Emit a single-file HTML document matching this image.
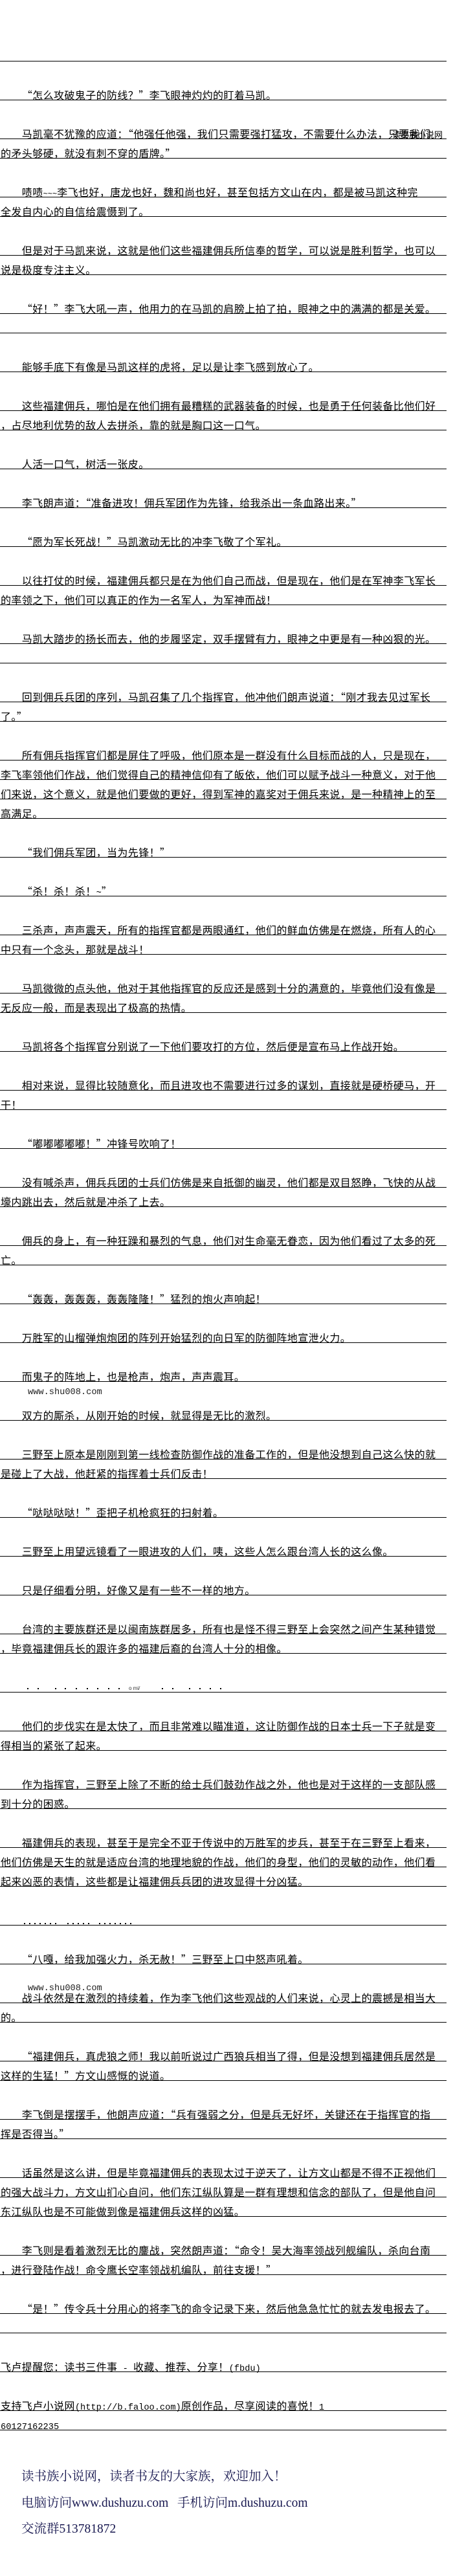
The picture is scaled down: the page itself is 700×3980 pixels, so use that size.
<!DOCTYPE html>
<html>
<head>
<meta charset="utf-8">
<style>
  html,body{margin:0;padding:0;background:#fff;}
  svg{display:block;}
  text{font-family:"Liberation Sans","Noto Sans CJK SC",sans-serif;font-size:16px;letter-spacing:0.4px;fill:#000;}
  .q{font-family:"Noto Sans CJK SC",sans-serif;}
  .l{font-family:"Liberation Mono",monospace;font-size:13.67px;letter-spacing:0;}
  text.wm{font-family:"Liberation Sans","Noto Sans CJK SC",sans-serif;font-size:13px;letter-spacing:0;}
  text.u{font-family:"Liberation Mono",monospace;font-size:13.67px;letter-spacing:0;fill:#222;}
  text.f{font-family:"Liberation Serif","Noto Serif CJK SC",serif;font-size:19.5px;letter-spacing:0;fill:#17174f;}
  text.g{font-family:"Liberation Sans",sans-serif;font-size:8px;letter-spacing:0;fill:#333;}
</style>
</head>
<body>
<svg xmlns="http://www.w3.org/2000/svg" width="700" height="3980" viewBox="0 0 700 3980">
<rect x="0" y="0" width="700" height="3980" fill="#fff"/>
<path stroke="#000" stroke-width="1" fill="none" d="M0 94.5H690M0 154.5H690M0 214.5H690M0 244.5H690M0 304.5H690M0 334.5H690M0 394.5H690M0 424.5H690M0 484.5H690M0 514.5H690M0 574.5H690M0 634.5H690M0 664.5H690M0 724.5H690M0 784.5H690M0 844.5H690M0 904.5H690M0 934.5H690M0 994.5H690M0 1024.5H690M0 1084.5H690M0 1114.5H690M0 1174.5H690M0 1204.5H690M0 1234.5H690M0 1264.5H690M0 1324.5H690M0 1384.5H690M0 1444.5H690M0 1474.5H690M0 1534.5H690M0 1564.5H690M0 1624.5H690M0 1684.5H690M0 1714.5H690M0 1774.5H690M0 1834.5H690M0 1864.5H690M0 1924.5H690M0 1954.5H690M0 2014.5H690M0 2074.5H690M0 2134.5H690M0 2194.5H690M0 2254.5H690M0 2284.5H690M0 2344.5H690M0 2404.5H690M0 2464.5H690M0 2524.5H690M0 2554.5H690M0 2614.5H690M0 2674.5H690M0 2704.5H690M0 2764.5H690M0 2794.5H690M0 2854.5H690M0 2884.5H690M0 2914.5H690M0 2974.5H690M0 3034.5H690M0 3094.5H690M0 3124.5H690M0 3184.5H690M0 3214.5H690M0 3274.5H690M0 3304.5H690M0 3364.5H690M0 3394.5H690M0 3424.5H690M0 3484.5H690M0 3514.5H690M0 3574.5H690M0 3604.5H690M0 3664.5H690M0 3724.5H690M0 3754.5H690"/>

<text x="33.8" y="153"><tspan class="q">“</tspan>怎么攻破鬼子的防线？<tspan class="q">”</tspan>李飞眼神灼灼的盯着马凯。</text>
<text x="33.8" y="213">马凯毫不犹豫的应道：<tspan class="q">“</tspan>他强任他强，我们只需要强打猛攻，不需要什么办法，只要我们</text>
<text class="wm" x="606" y="213">读书族小说网</text>
<text x="1" y="243">的矛头够硬，就没有刺不穿的盾牌。<tspan class="q">”</tspan></text>
<text x="33.8" y="303">啧啧<tspan class="l" style="font-size:12px">~~~</tspan>李飞也好，唐龙也好，魏和尚也好，甚至包括方文山在内，都是被马凯这种完</text>
<text x="1" y="333">全发自内心的自信给震慑到了。</text>
<text x="33.8" y="393">但是对于马凯来说，这就是他们这些福建佣兵所信奉的哲学，可以说是胜利哲学，也可以</text>
<text x="1" y="423">说是极度专注主义。</text>
<text x="33.8" y="483"><tspan class="q">“</tspan>好！<tspan class="q">”</tspan>李飞大吼一声，他用力的在马凯的肩膀上拍了拍，眼神之中的满满的都是关爱。</text>
<text x="33.8" y="573">能够手底下有像是马凯这样的虎将，足以是让李飞感到放心了。</text>
<text x="33.8" y="633">这些福建佣兵，哪怕是在他们拥有最糟糕的武器装备的时候，也是勇于任何装备比他们好</text>
<text x="1" y="663">，占尽地利优势的敌人去拼杀，靠的就是胸口这一口气。</text>
<text x="33.8" y="723">人活一口气，树活一张皮。</text>
<text x="33.8" y="783">李飞朗声道：<tspan class="q">“</tspan>准备进攻！佣兵军团作为先锋，给我杀出一条血路出来。<tspan class="q">”</tspan></text>
<text x="33.8" y="843"><tspan class="q">“</tspan>愿为军长死战！<tspan class="q">”</tspan>马凯激动无比的冲李飞敬了个军礼。</text>
<text x="33.8" y="903">以往打仗的时候，福建佣兵都只是在为他们自己而战，但是现在，他们是在军神李飞军长</text>
<text x="1" y="933">的率领之下，他们可以真正的作为一名军人，为军神而战！</text>
<text x="33.8" y="993">马凯大踏步的扬长而去，他的步履坚定，双手摆臂有力，眼神之中更是有一种凶狠的光。</text>
<text x="33.8" y="1083">回到佣兵兵团的序列，马凯召集了几个指挥官，他冲他们朗声说道：<tspan class="q">“</tspan>刚才我去见过军长</text>
<text x="1" y="1113">了。<tspan class="q">”</tspan></text>
<text x="33.8" y="1173">所有佣兵指挥官们都是屏住了呼吸，他们原本是一群没有什么目标而战的人，只是现在，</text>
<text x="1" y="1203">李飞率领他们作战，他们觉得自己的精神信仰有了皈依，他们可以赋予战斗一种意义，对于他</text>
<text x="1" y="1233">们来说，这个意义，就是他们要做的更好，得到军神的嘉奖对于佣兵来说，是一种精神上的至</text>
<text x="1" y="1263">高满足。</text>
<text x="33.8" y="1323"><tspan class="q">“</tspan>我们佣兵军团，当为先锋！<tspan class="q">”</tspan></text>
<text x="33.8" y="1383"><tspan class="q">“</tspan>杀！杀！杀！<tspan class="l">~</tspan><tspan class="q">”</tspan></text>
<text x="33.8" y="1443">三杀声，声声震天，所有的指挥官都是两眼通红，他们的鲜血仿佛是在燃烧，所有人的心</text>
<text x="1" y="1473">中只有一个念头，那就是战斗！</text>
<text x="33.8" y="1533">马凯微微的点头他，他对于其他指挥官的反应还是感到十分的满意的，毕竟他们没有像是</text>
<text x="1" y="1563">无反应一般，而是表现出了极高的热情。</text>
<text x="33.8" y="1623">马凯将各个指挥官分别说了一下他们要攻打的方位，然后便是宣布马上作战开始。</text>
<text x="33.8" y="1683">相对来说，显得比较随意化，而且进攻也不需要进行过多的谋划，直接就是硬桥硬马，开</text>
<text x="1" y="1713">干！</text>
<text x="33.8" y="1773"><tspan class="q">“</tspan>嘟嘟嘟嘟嘟！<tspan class="q">”</tspan>冲锋号吹响了！</text>
<text x="33.8" y="1833">没有喊杀声，佣兵兵团的士兵们仿佛是来自抵御的幽灵，他们都是双目怒睁，飞快的从战</text>
<text x="1" y="1863">壕内跳出去，然后就是冲杀了上去。</text>
<text x="33.8" y="1923">佣兵的身上，有一种狂躁和暴烈的气息，他们对生命毫无眷恋，因为他们看过了太多的死</text>
<text x="1" y="1953">亡。</text>
<text x="33.8" y="2013"><tspan class="q">“</tspan>轰轰，轰轰轰，轰轰隆隆！<tspan class="q">”</tspan>猛烈的炮火声响起！</text>
<text x="33.8" y="2073">万胜军的山榴弹炮炮团的阵列开始猛烈的向日军的防御阵地宣泄火力。</text>
<text x="33.8" y="2133">而鬼子的阵地上，也是枪声，炮声，声声震耳。</text>
<text class="u" x="43" y="2154">www.shu008.com</text>
<text x="33.8" y="2193">双方的厮杀，从刚开始的时候，就显得是无比的激烈。</text>
<text x="33.8" y="2253">三野至上原本是刚刚到第一线检查防御作战的准备工作的，但是他没想到自己这么快的就</text>
<text x="1" y="2283">是碰上了大战，他赶紧的指挥着士兵们反击！</text>
<text x="33.8" y="2343"><tspan class="q">“</tspan>哒哒哒哒！<tspan class="q">”</tspan>歪把子机枪疯狂的扫射着。</text>
<text x="33.8" y="2403">三野至上用望远镜看了一眼进攻的人们，咦，这些人怎么跟台湾人长的这么像。</text>
<text x="33.8" y="2463">只是仔细看分明，好像又是有一些不一样的地方。</text>
<text x="33.8" y="2523">台湾的主要族群还是以闽南族群居多，所有也是怪不得三野至上会突然之间产生某种错觉</text>
<text x="1" y="2553">，毕竟福建佣兵长的跟许多的福建后裔的台湾人十分的相像。</text>

<g fill="#000">
  <rect x="42" y="2608" width="2" height="2"/><rect x="58" y="2608" width="2" height="2"/>
  <rect x="85" y="2608" width="2" height="2"/><rect x="100" y="2608" width="2" height="2"/>
  <rect x="117" y="2608" width="2" height="2"/><rect x="134" y="2608" width="2" height="2"/>
  <rect x="150" y="2608" width="2" height="2"/><rect x="167" y="2608" width="2" height="2"/>
  <rect x="183" y="2608" width="2" height="2"/>
  <rect x="250" y="2608" width="2" height="2"/><rect x="266" y="2608" width="2" height="2"/>
  <rect x="292" y="2608" width="2" height="2"/><rect x="308" y="2608" width="2" height="2"/>
  <rect x="324" y="2608" width="2" height="2"/><rect x="340" y="2608" width="2" height="2"/>
</g>
<text class="g" x="199" y="2611">o mi/</text>

<text x="33.8" y="2673">他们的步伐实在是太快了，而且非常难以瞄准道，这让防御作战的日本士兵一下子就是变</text>
<text x="1" y="2703">得相当的紧张了起来。</text>
<text x="33.8" y="2763">作为指挥官，三野至上除了不断的给士兵们鼓劲作战之外，他也是对于这样的一支部队感</text>
<text x="1" y="2793">到十分的困惑。</text>
<text x="33.8" y="2853">福建佣兵的表现，甚至于是完全不亚于传说中的万胜军的步兵，甚至于在三野至上看来，</text>
<text x="1" y="2883">他们仿佛是天生的就是适应台湾的地理地貌的作战，他们的身型，他们的灵敏的动作，他们看</text>
<text x="1" y="2913">起来凶恶的表情，这些都是让福建佣兵兵团的进攻显得十分凶猛。</text>

<g fill="#000">
  <rect x="37" y="2971" width="2" height="2"/><rect x="45" y="2971" width="2" height="2"/>
  <rect x="53" y="2971" width="2" height="2"/><rect x="61" y="2971" width="2" height="2"/>
  <rect x="69" y="2971" width="2" height="2"/><rect x="77" y="2971" width="2" height="2"/>
  <rect x="85" y="2971" width="2" height="2"/>
  <rect x="104" y="2971" width="2" height="2"/><rect x="112" y="2971" width="2" height="2"/>
  <rect x="120" y="2971" width="2" height="2"/><rect x="128" y="2971" width="2" height="2"/>
  <rect x="136" y="2971" width="2" height="2"/>
  <rect x="153" y="2971" width="2" height="2"/><rect x="161" y="2971" width="2" height="2"/>
  <rect x="169" y="2971" width="2" height="2"/><rect x="177" y="2971" width="2" height="2"/>
  <rect x="185" y="2971" width="2" height="2"/><rect x="193" y="2971" width="2" height="2"/>
  <rect x="201" y="2971" width="2" height="2"/>
</g>

<text x="33.8" y="3033"><tspan class="q">“</tspan>八嘎，给我加强火力，杀无赦！<tspan class="q">”</tspan>三野至上口中怒声吼着。</text>
<text class="u" x="43" y="3075">www.shu008.com</text>
<text x="33.8" y="3093">战斗依然是在激烈的持续着，作为李飞他们这些观战的人们来说，心灵上的震撼是相当大</text>
<text x="1" y="3123">的。</text>
<text x="33.8" y="3183"><tspan class="q">“</tspan>福建佣兵，真虎狼之师！我以前听说过广西狼兵相当了得，但是没想到福建佣兵居然是</text>
<text x="1" y="3213">这样的生猛！<tspan class="q">”</tspan>方文山感慨的说道。</text>
<text x="33.8" y="3273">李飞倒是摆摆手，他朗声应道：<tspan class="q">“</tspan>兵有强弱之分，但是兵无好坏，关键还在于指挥官的指</text>
<text x="1" y="3303">挥是否得当。<tspan class="q">”</tspan></text>
<text x="33.8" y="3363">话虽然是这么讲，但是毕竟福建佣兵的表现太过于逆天了，让方文山都是不得不正视他们</text>
<text x="1" y="3393">的强大战斗力，方文山扪心自问，他们东江纵队算是一群有理想和信念的部队了，但是他自问</text>
<text x="1" y="3423">东江纵队也是不可能做到像是福建佣兵这样的凶猛。</text>
<text x="33.8" y="3483">李飞则是看着激烈无比的鏖战，突然朗声道：<tspan class="q">“</tspan>命令！吴大海率领战列舰编队，杀向台南</text>
<text x="1" y="3513">，进行登陆作战！命令鹰长空率领战机编队，前往支援！<tspan class="q">”</tspan></text>
<text x="33.8" y="3573"><tspan class="q">“</tspan>是！<tspan class="q">”</tspan>传令兵十分用心的将李飞的命令记录下来，然后他急急忙忙的就去发电报去了。</text>

<text x="1" y="3663">飞卢提醒您：读书三件事<tspan class="l" xml:space="preserve"> - </tspan>收藏、推荐、分享！<tspan class="l">(fbdu)</tspan></text>
<text x="1" y="3723">支持飞卢小说网<tspan class="l">(http://b.faloo.com)</tspan>原创作品，尽享阅读的喜悦！<tspan class="l">1</tspan></text>
<text x="1" y="3753"><tspan class="l">60127162235</tspan></text>

<text class="f" x="33" y="3832">读书族小说网，读者书友的大家族，欢迎加入！</text>
<text class="f" x="33" y="3873">电脑访问www.dushuzu.com<tspan x="274">手机访问m.dushuzu.com</tspan></text>
<text class="f" x="33" y="3913">交流群513781872</text>
</svg>
</body>
</html>
